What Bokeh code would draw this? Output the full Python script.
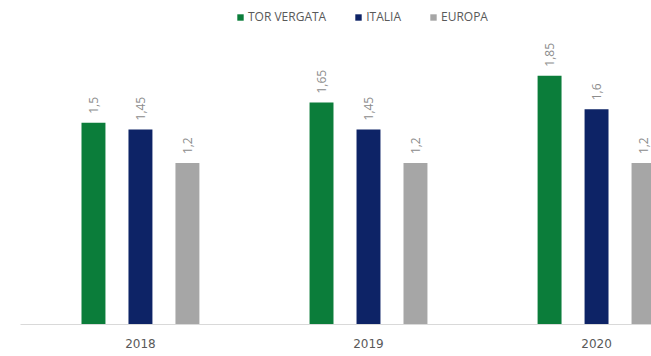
from bokeh.plotting import figure
from bokeh.models import ColumnDataSource, FixedTicker, Legend, LegendItem, Range1d
from bokeh.core.properties import value
from bokeh.embed import file_html
from bokeh.resources import INLINE

years = ["2018", "2019", "2020"]
series_names = ["TOR VERGATA", "ITALIA", "EUROPA"]
tor_vergata = [1.5, 1.65, 1.85]
italia = [1.45, 1.45, 1.6]
europa = [1.2, 1.2, 1.2]
colors = ["#0B7D3A", "#0D2366", "#A6A6A6"]

FONT = "Open Sans"

p = figure(width=651, height=356, output_backend="svg", toolbar_location=None,
           x_range=Range1d(-0.526, 2.241), y_range=Range1d(0, 2.409),
           min_border_left=20, min_border_right=0, min_border_top=0,
           min_border_bottom=32)
p.outline_line_color = None
p.grid.visible = False
p.yaxis.visible = False

offsets = [-0.206, 0.0, 0.206]
renderers = []
for vals, off, col in zip([tor_vergata, italia, europa], offsets, colors):
    xs = [i + off for i in range(len(years))]
    src = ColumnDataSource(dict(x=xs, top=vals,
                                lab=[str(v).replace(".", ",") for v in vals]))
    r = p.vbar(x="x", top="top", width=0.105, bottom=0, source=src,
               fill_color=col, line_color=None)
    renderers.append(r)
    p.text(x="x", y="top", text="lab", source=src, angle=1.5708,
           text_align="left", text_baseline="middle", y_offset=-9,
           text_font=value(FONT), text_font_size="12px", text_color="#8C8C8C")

ax = p.xaxis[0]
ax.ticker = FixedTicker(ticks=list(range(len(years))))
ax.major_label_overrides = {i: y for i, y in enumerate(years)}
ax.major_tick_line_color = None
ax.minor_tick_line_color = None
ax.axis_line_color = "#D9D9D9"
ax.axis_line_width = 1
ax.major_label_text_font = "DejaVu Sans"
ax.major_label_text_font_size = "12px"
ax.major_label_text_color = "#595959"
ax.major_label_standoff = 8

legend = Legend(items=[LegendItem(label=n, renderers=[r]) for n, r in zip(series_names, renderers)],
                orientation="horizontal", location=(216, 299),
                border_line_color=None, background_fill_alpha=0,
                label_text_font="Open Sans", label_text_font_size="12px",
                label_text_color="#595959", glyph_width=8, glyph_height=8,
                spacing=28, label_standoff=4, padding=0, margin=0)
p.add_layout(legend)

open("out.html", "w").write(file_html(p, INLINE))
